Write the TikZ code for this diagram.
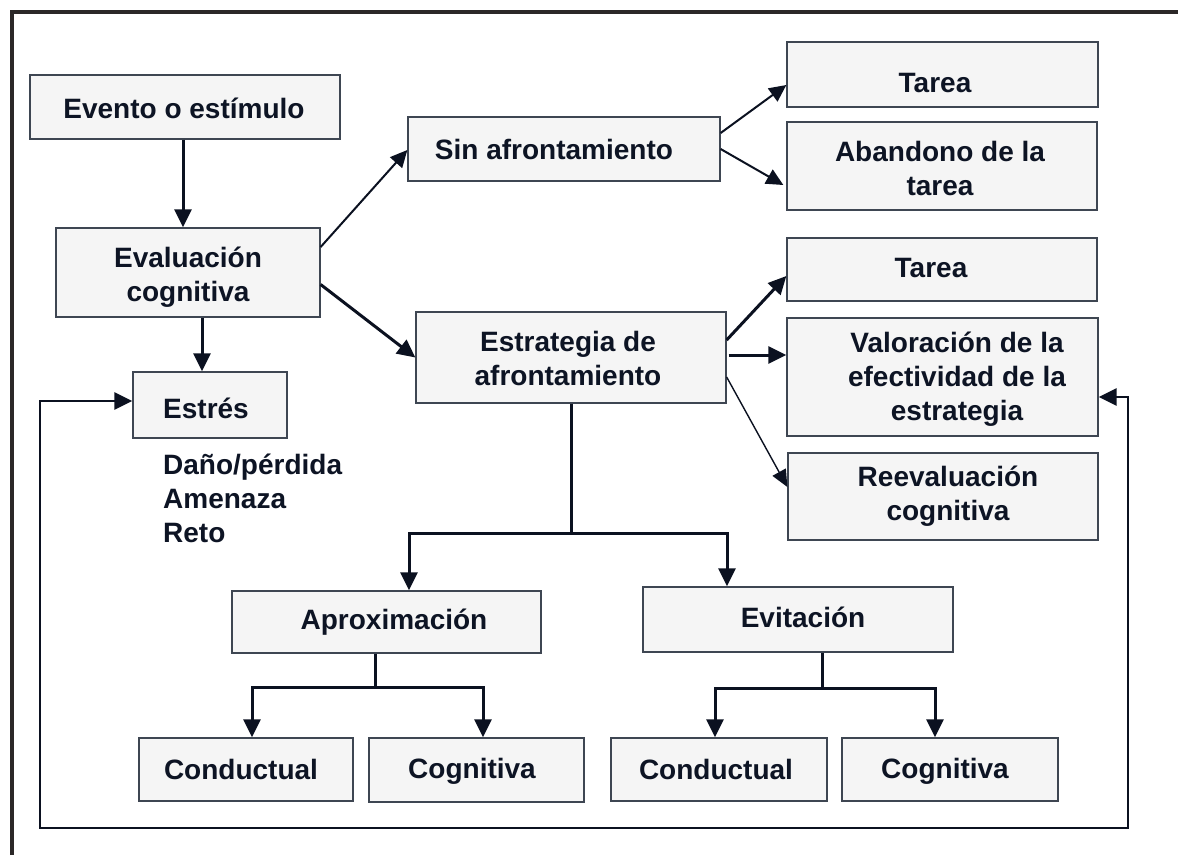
\documentclass[tikz,border=0pt]{standalone}
\usepackage{fontspec}
\setmainfont{Liberation Sans}
\usetikzlibrary{arrows.meta}
\definecolor{linec}{HTML}{0B1120}
\definecolor{boxline}{HTML}{3E4652}
\definecolor{boxfill}{HTML}{F5F5F5}
\definecolor{framec}{HTML}{2B2828}
\definecolor{textc}{HTML}{0D1424}
\tikzset{
  box/.style={draw=boxline, fill=boxfill, line width=1.3pt, inner sep=0pt},
  txt/.style={font=\fontsize{28}{34}\selectfont\bfseries, text=textc, inner sep=0pt, anchor=base, align=center},
  arr/.style={draw=linec, line width=3pt, -{Triangle[length=18pt,width=17pt]}},
  arrthin/.style={draw=linec, line width=2pt, -{Triangle[length=17pt,width=16pt]}},
  arrfine/.style={draw=linec, line width=1.4pt, -{Triangle[length=17pt,width=15pt]}},
  conn/.style={draw=linec, line width=3pt},
  framel/.style={draw=framec, line width=3.5pt}
}
\begin{document}
\begin{tikzpicture}[x=1pt, y=-1pt]
\useasboundingbox (0,0) rectangle (1178,855);
% outer frame
\draw[framel] (12,855) -- (12,12) -- (1178,12);

% boxes
\node[box, minimum width=310pt, minimum height=64pt] (evento) at (185,107) {};
\node[box, minimum width=264pt, minimum height=89pt] (eval) at (188,272.5) {};
\node[box, minimum width=312pt, minimum height=64pt] (sin) at (564,149) {};
\node[box, minimum width=311pt, minimum height=65pt] (tarea1) at (942.5,74.5) {};
\node[box, minimum width=310pt, minimum height=88pt] (aband) at (942,166) {};
\node[box, minimum width=310pt, minimum height=63pt] (tarea2) at (942,269.5) {};
\node[box, minimum width=311pt, minimum height=118pt] (valor) at (942.5,377) {};
\node[box, minimum width=310pt, minimum height=87pt] (reeval) at (943,496.5) {};
\node[box, minimum width=310pt, minimum height=91pt] (estrat) at (571,357.5) {};
\node[box, minimum width=154pt, minimum height=66pt] (estres) at (210,405) {};
\node[box, minimum width=309pt, minimum height=62pt] (aprox) at (386.5,622) {};
\node[box, minimum width=310pt, minimum height=65pt] (evit) at (798,619.5) {};
\node[box, minimum width=214pt, minimum height=63pt] (cond1) at (246,769.5) {};
\node[box, minimum width=215pt, minimum height=64pt] (cog1) at (476.5,770) {};
\node[box, minimum width=216pt, minimum height=63pt] (cond2) at (719,769.5) {};
\node[box, minimum width=216pt, minimum height=63pt] (cog2) at (950,769.5) {};

% texts (anchor base = baseline of the last line)
\node[txt] (eventoT) at (184,118) {Evento o estímulo};
\node[txt] (evalT) at (188,301) {Evaluación\\cognitiva};
\node[txt] (sinT) at (554,159) {Sin afrontamiento};
\node[txt] (tarea1T) at (935,92) {Tarea};
\node[txt] (abandT) at (940,195) {Abandono de la\\tarea};
\node[txt] (tarea2T) at (931,277) {Tarea};
\node[txt] (valorT) at (957,420) {Valoración de la\\efectividad de la\\estrategia};
\node[txt] (reevalT) at (948,520) {Reevaluación\\cognitiva};
\node[txt] (estratT) at (568,385) {Estrategia de\\afrontamiento};
\node[txt] (estresT) at (206,418) {Estrés};
\node[txt, align=left, anchor=base west] (tiposT) at (163,542) {Daño/pérdida\\Amenaza\\Reto};
\node[txt] (aproxT) at (394,629) {Aproximación};
\node[txt] (evitT) at (803,627) {Evitación};
\node[txt] (cond1T) at (241,779) {Conductual};
\node[txt] (cog1T) at (472,778) {Cognitiva};
\node[txt] (cond2T) at (716,779) {Conductual};
\node[txt] (cog2T) at (945,778) {Cognitiva};

% connectors
\draw[arr] ([xshift=-2pt]evento.south) -- ([xshift=-2pt]evento.south |- eval.north);
\draw[arr] ([xshift=-8pt]estres.north |- eval.south) -- ([xshift=-8pt]estres.north);
\draw[arrthin] ([yshift=25.5pt]eval.east) -- ([yshift=-1pt]sin.west);
\draw[arr] ([yshift=-12pt]eval.east) -- (estrat.west);
\draw[arrthin] ([yshift=16pt]sin.east) -- ([yshift=-10.5pt]tarea1.west);
\draw[arrthin] (sin.east) -- ([yshift=-19pt,xshift=-3pt]aband.west);
\draw[arr] ([yshift=17.5pt]estrat.east) -- ([yshift=-6.5pt]tarea2.west);
\draw[arr] ([yshift=2.5pt,xshift=2pt]estrat.east) -- ([yshift=2.5pt]estrat.east -| valor.west);
\draw[arrfine] ([yshift=-19.5pt]estrat.east) -- ([yshift=9.5pt]reeval.west);

\coordinate (split) at (571,533);
\draw[conn] (estrat.south) -- (split);
\draw[arr] (split) -| ([xshift=22.5pt]aprox.north);
\draw[arr] (split) -| ([xshift=-71pt]evit.north);

\coordinate (splitA) at (375,687);
\draw[conn] (aprox.south -| splitA) -- (splitA);
\draw[arr] (splitA) -| ([xshift=6pt]cond1.north);
\draw[arr] (splitA) -| ([xshift=6.5pt]cog1.north);

\coordinate (splitE) at (822,688);
\draw[conn] (evit.south -| splitE) -- (splitE);
\draw[arr] (splitE) -| ([xshift=-4pt]cond2.north);
\draw[arr] (splitE) -| ([xshift=-15pt]cog2.north);

% feedback loop
\coordinate (fbR) at (1128,828);
\coordinate (fbL) at (40,828);
\draw[draw=linec, line width=2.8pt, {Triangle[length=18pt,width=17pt]}-{Triangle[length=18pt,width=17pt]}]
  ([yshift=-20pt]valor.east) -| (fbR) -- (fbL) |- ([yshift=4pt]estres.west);
\end{tikzpicture}
\end{document}
